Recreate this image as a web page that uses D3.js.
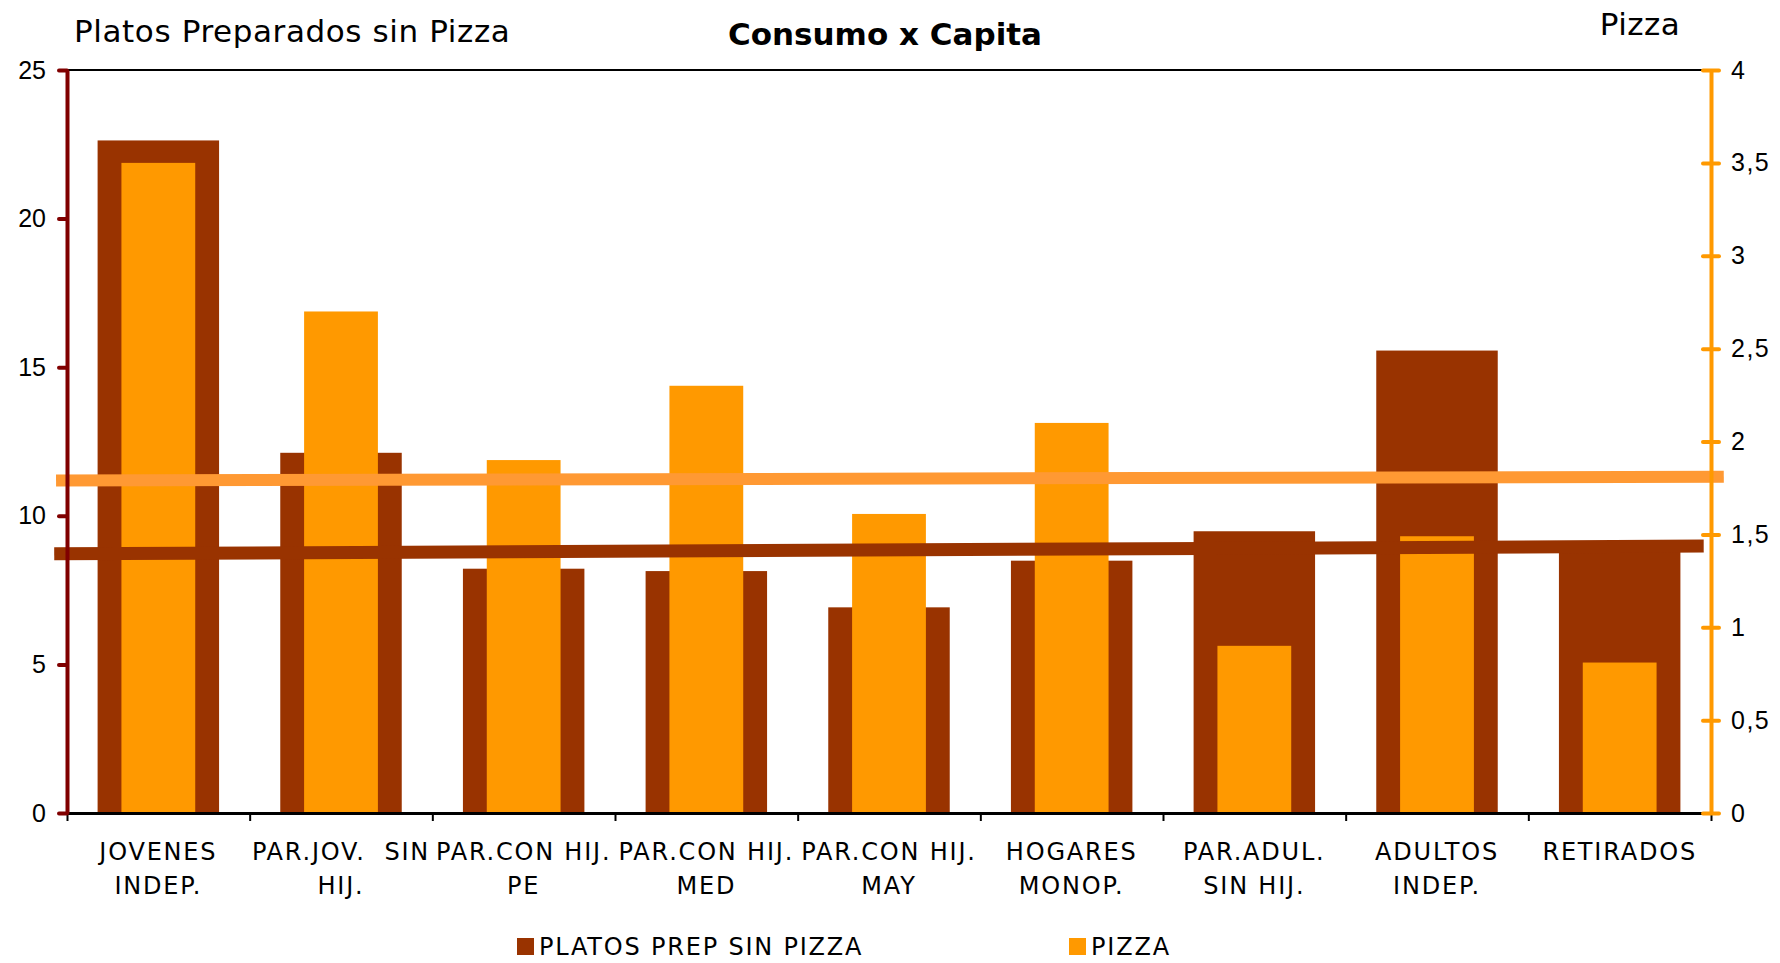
<!DOCTYPE html>
<html>
<head>
<meta charset="utf-8">
<script src="https://cdn.jsdelivr.net/npm/d3@7"></script>
<style>
  body { margin: 0; background: #fff; }
  svg { display: block; font-family: "DejaVu Sans", Verdana, sans-serif; }
</style>
</head>
<body>
<div id="chart"></div>
<script>
// categories (x axis), label wrapped in lines like the original
const categories = ["JOVENES INDEP.", "PAR.JOV. SIN HIJ.", "PAR.CON HIJ. PE", "PAR.CON HIJ. MED",
  "PAR.CON HIJ. MAY", "HOGARES MONOP.", "PAR.ADUL. SIN HIJ.", "ADULTOS INDEP.", "RETIRADOS"];
const categoryLines = [["JOVENES", "INDEP."], ["PAR.JOV.  SIN", "HIJ."], ["PAR.CON HIJ.", "PE"],
  ["PAR.CON HIJ.", "MED"], ["PAR.CON HIJ.", "MAY"], ["HOGARES", "MONOP."], ["PAR.ADUL.", "SIN HIJ."],
  ["ADULTOS", "INDEP."], ["RETIRADOS"]];

// series values
const platosValues = [22.63, 12.12, 8.22, 8.14, 6.92, 8.49, 9.48, 15.56, 9.14];
const pizzaValues = [3.50, 2.70, 1.90, 2.30, 1.61, 2.10, 0.90, 1.49, 0.81];

// trend lines: [start, end] in category units and values
const platosTrendX = [-0.07, 8.96];
const platosTrend = [8.72, 8.98];
const pizzaTrendX = [-0.06, 9.07];
const pizzaTrend = [1.79, 1.81];

// ticks
const leftTicks = [0, 5, 10, 15, 20, 25];
const rightTicks = [0, 0.5, 1, 1.5, 2, 2.5, 3, 3.5, 4];

const width = 1780;
const height = 963;
const margin = { top: 70, right: 69, bottom: 150, left: 67 };
const plot = {
  left: margin.left,
  right: width - margin.right,
  top: margin.top,
  bottom: height - margin.bottom
};

const DARK = "#993300";
const ORANGE = "#FF9900";

const svg = d3.select("#chart").append("svg")
  .attr("width", width)
  .attr("height", height);

const xBand = d3.scaleBand()
  .domain(categories)
  .range([plot.left, plot.right])
  .padding(0);

const xIdx = d3.scaleLinear()
  .domain([0, categories.length])
  .range([plot.left, plot.right]);

const yLeft = d3.scaleLinear().domain([0, 25]).range([plot.bottom, plot.top]);
const yRight = d3.scaleLinear().domain([0, 4]).range([plot.bottom, plot.top]);

const bw = xBand.bandwidth();
const darkW = bw * 0.665;
const orangeW = bw * 0.404;

// top border of plot area
svg.append("line")
  .attr("x1", plot.left).attr("x2", plot.right)
  .attr("y1", plot.top).attr("y2", plot.top)
  .attr("stroke", "#000").attr("stroke-width", 2);

// bars
svg.append("g").selectAll("rect")
  .data(platosValues)
  .join("rect")
  .attr("x", (d, i) => xBand(categories[i]) + (bw - darkW) / 2)
  .attr("y", d => yLeft(d))
  .attr("width", darkW)
  .attr("height", d => plot.bottom - yLeft(d))
  .attr("fill", DARK);

svg.append("g").selectAll("rect")
  .data(pizzaValues)
  .join("rect")
  .attr("x", (d, i) => xBand(categories[i]) + (bw - orangeW) / 2)
  .attr("y", d => yRight(d))
  .attr("width", orangeW)
  .attr("height", d => plot.bottom - yRight(d))
  .attr("fill", ORANGE);

// trend lines
const trendLine = (xs, ys, yScale) => d3.line()
  .x((d, i) => xIdx(xs[i]))
  .y(d => yScale(d))(ys);

svg.append("path")
  .attr("d", trendLine(platosTrendX, platosTrend, yLeft))
  .attr("stroke", DARK).attr("stroke-width", 13).attr("fill", "none");

svg.append("path")
  .attr("d", trendLine(pizzaTrendX, pizzaTrend, yRight))
  .attr("stroke", "#FF9933").attr("stroke-width", 12).attr("fill", "none");

// bottom axis with ticks between categories
const xAxis = svg.append("g")
  .attr("transform", `translate(0,${plot.bottom})`)
  .call(d3.axisBottom(xIdx).tickValues(d3.range(categories.length + 1)).tickFormat("").tickSize(8).tickSizeOuter(0));
xAxis.select(".domain").attr("stroke", "#000").attr("stroke-width", 3);
xAxis.selectAll(".tick line").attr("stroke", "#000").attr("stroke-width", 2);

// category labels
const labels = svg.append("g")
  .attr("font-size", 24)
  .attr("text-anchor", "middle")
  .attr("fill", "#000");
categoryLines.forEach((lines, i) => {
  const t = labels.append("text")
    .attr("x", xBand(categories[i]) + bw / 2)
    .attr("y", plot.bottom + 47)
    .attr("letter-spacing", 1.8);
  lines.forEach((ln, j) => {
    t.append("tspan")
      .attr("x", xBand(categories[i]) + bw / 2)
      .attr("dy", j === 0 ? 0 : 34)
      .attr("xml:space", "preserve")
      .text(ln);
  });
});

// left axis
const yAxisL = svg.append("g")
  .attr("transform", `translate(${plot.left},0)`)
  .call(d3.axisLeft(yLeft).tickValues(leftTicks).tickSize(8).tickSizeOuter(0).tickPadding(13));
yAxisL.select(".domain").attr("stroke", "#800000").attr("stroke-width", 4);
yAxisL.selectAll(".tick line").attr("stroke", "#800000").attr("stroke-width", 4).attr("stroke-linecap", "round");
yAxisL.selectAll(".tick text").attr("font-size", 25).attr("fill", "#000").attr("font-family", null);

// right axis
const yAxisR = svg.append("g")
  .attr("transform", `translate(${plot.right},0)`)
  .call(d3.axisRight(yRight).tickValues(rightTicks).tickSize(8).tickSizeOuter(0).tickPadding(12)
    .tickFormat(d => String(d).replace(".", ",")));
yAxisR.select(".domain").attr("stroke", ORANGE).attr("stroke-width", 4);
yAxisR.selectAll(".tick line").attr("x1", -8).attr("stroke", ORANGE).attr("stroke-width", 4).attr("stroke-linecap", "round");
yAxisR.selectAll(".tick text").attr("font-size", 25).attr("fill", "#000").attr("font-family", null).attr("letter-spacing", 1.5);

// titles
svg.append("text")
  .attr("x", 74).attr("y", 42)
  .attr("font-size", 31).attr("letter-spacing", 0.6)
  .text("Platos Preparados sin Pizza");

svg.append("text")
  .attr("x", 885).attr("y", 45)
  .attr("text-anchor", "middle")
  .attr("font-size", 31).attr("font-weight", "bold")
  .text("Consumo x Capita");

svg.append("text")
  .attr("x", 1640).attr("y", 35)
  .attr("text-anchor", "middle")
  .attr("font-size", 31).attr("letter-spacing", 0.5)
  .text("Pizza");

// legend
const legendItems = [
  { label: "PLATOS PREP SIN PIZZA", color: DARK, x: 517 },
  { label: "PIZZA", color: ORANGE, x: 1069 }
];
const legend = svg.append("g").attr("font-size", 24);
legendItems.forEach(it => {
  legend.append("rect")
    .attr("x", it.x).attr("y", 938)
    .attr("width", 17).attr("height", 17)
    .attr("fill", it.color);
  legend.append("text")
    .attr("x", it.x + 22).attr("y", 955)
    .attr("letter-spacing", 1.8)
    .text(it.label);
});
</script>
</body>
</html>
